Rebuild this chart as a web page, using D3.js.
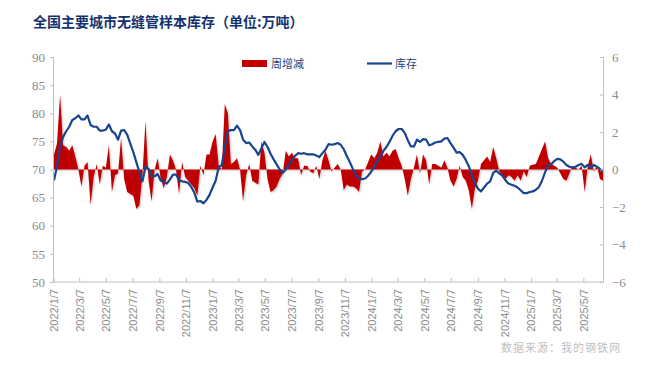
<!DOCTYPE html>
<html>
<head>
<meta charset="utf-8">
<script src="https://cdn.jsdelivr.net/npm/d3@7"></script>
<style>
  body { margin: 0; background: #fff; }
  svg { display: block; }
</style>
</head>
<body>
<svg id="chart" width="651" height="377"></svg>
<script>
// weekly data, first week 2022/1/7
var startDate = "2022-01-07";

// 库存 (万吨, left axis)
var inventory = [
  68.1, 70.6, 74.1, 75.8, 76.8, 77.6, 78.8, 79.1, 79.6, 78.9,
  78.9, 79.6, 77.9, 77.6, 77.6, 76.9, 76.9, 77.1, 78.0, 76.8,
  76.4, 75.3, 76.9, 77.0, 76.2, 74.6, 73.1, 71.3, 69.5, 67.9,
  70.5, 70.1, 68.8, 68.8, 69.2, 68.0, 67.8, 67.5, 68.2, 69.1,
  69.1, 68.1, 67.9, 67.8, 67.6, 66.9, 65.9, 64.3, 64.4, 64.0,
  64.6, 65.5, 66.8, 68.0, 70.4, 70.8, 73.8, 76.8, 77.0, 77.0,
  77.8, 77.0, 75.3, 74.7, 74.8, 74.1, 73.5, 72.6, 73.8, 74.9,
  74.0, 72.8, 71.8, 70.9, 70.0, 69.4, 70.0, 70.8, 71.6, 72.4,
  72.9, 72.8, 72.9, 72.7, 72.7, 72.7, 72.5, 72.2, 72.9, 73.5,
  74.5, 74.4, 74.5, 74.7, 74.4, 73.6, 72.4, 71.3, 70.1, 69.0,
  68.4, 68.3, 68.4, 68.9, 69.6, 70.5, 71.4, 72.3, 73.3, 74.0,
  74.9, 76.0, 76.8, 77.2, 77.2, 76.5, 75.2, 74.1, 74.1, 75.3,
  74.9, 75.4, 75.3, 74.3, 74.5, 74.8, 74.9, 75.0, 75.5, 75.6,
  74.7, 73.9, 73.0, 73.1, 72.6, 71.7, 70.6, 69.0, 67.6, 66.6,
  66.1, 66.8, 67.5, 67.9, 69.4, 69.8, 69.3, 68.9, 68.1, 67.5,
  67.3, 67.1, 66.8, 66.3, 65.8, 65.8, 66.0, 66.1, 66.4, 66.9,
  68.0, 69.5, 70.8, 70.9, 71.5, 71.9, 71.8, 71.4, 70.8, 70.5,
  70.3, 70.5, 70.8, 71.0, 70.4, 70.8, 70.4, 70.8, 70.5, 70.1,
  69.6
];

// 周增减 (万吨, right axis)
var weeklyChange = [
  0.8, 1.4, 4.0, 1.3, 1.2, 1.0, 1.3, 0.7, 0.0, -0.9,
  0.2, 0.4, -1.9, -0.4, 0.3, -0.8, 0.2, 0.1, 1.3, -1.2,
  -0.3, -0.2, 1.7, -0.5, -1.2, -1.3, -1.4, -2.1, -1.9, -0.3,
  2.6, -0.6, -1.7, 0.0, 0.6, -0.5, -1.0, -0.4, 0.8, 0.5,
  0.0, -1.3, 0.4, -0.4, -0.6, -0.8, -1.0, -1.4, 0.2, -0.3,
  0.8, 0.8, 1.5, 1.9, 0.2, 0.0, 3.5, 3.0, 0.3, 0.4,
  0.6, 0.0, -1.7, -0.3, 0.3, -0.6, -0.7, -0.8, 1.5, 0.9,
  -0.5, -1.2, -1.1, -0.9, -0.5, -0.2, 1.0, 0.7, 0.9, 0.6,
  0.6, -0.3, 0.2, 0.2, -0.1, -0.2, 0.2, -0.5, 0.5, 1.0,
  0.5, -0.1, 0.1, 0.3, 0.0, -1.1, -0.8, -0.9, -0.9, -1.0,
  -1.2, -0.1, 0.0, 0.4, 0.8, 0.6, 0.9, 1.5, 0.7, 0.9,
  0.7, 1.0, 1.1, 0.6, 0.2, -0.5, -1.4, -0.5, 0.1, 0.8,
  -0.2, 0.8, 0.5, -0.8, 0.3, 0.3, 0.2, 0.1, 0.5, 0.1,
  -0.6, -0.9, -0.5, 0.2, -0.4, -0.6, -1.1, -2.1, -1.0, -0.6,
  0.3, 0.5, 0.7, 0.4, 1.2, 0.6, -0.1, -0.3, -0.5, -0.3,
  -0.4, -0.6, -0.3, -0.6, -0.1, -0.4, 0.2, 0.25, 0.3, 0.7,
  1.1, 1.5, 0.6, 0.3, 0.2, 0.1, -0.2, -0.5, -0.6, -0.2,
  0.2, 0.1, 0.0, 0.2, -1.2, 0.2, 0.8, -0.1, 0.2, -0.5,
  -0.6
];

var tickLabels = [
  "2022/1/7", "2022/3/7", "2022/5/7", "2022/7/7", "2022/9/7", "2022/11/7",
  "2023/1/7", "2023/3/7", "2023/5/7", "2023/7/7", "2023/9/7", "2023/11/7",
  "2024/1/7", "2024/3/7", "2024/5/7", "2024/7/7", "2024/9/7", "2024/11/7",
  "2025/1/7", "2025/3/7", "2025/5/7"
];
var leftTicks = [50, 55, 60, 65, 70, 75, 80, 85, 90];
var rightTicks = [-6, -4, -2, 0, 2, 4, 6];

var svg = d3.select("#chart");
var plot = { left: 53, right: 603, top: 57, bottom: 282 };

var parseDay = d3.timeParse("%Y-%m-%d");
var parseLabel = d3.timeParse("%Y/%m/%d");
var first = parseDay(startDate);
var rows = inventory.map(function(v, i) {
  return { date: d3.timeDay.offset(first, 7 * i), stock: v, change: weeklyChange[i] };
});

var x = d3.scaleTime()
  .domain(d3.extent(rows, function(d) { return d.date; }))
  .range([plot.left + 1, plot.right]);
var yL = d3.scaleLinear().domain([50, 90]).range([plot.bottom, plot.top]);
var yR = d3.scaleLinear().domain([-6, 6]).range([plot.bottom, plot.top]);

var axisColor = "#bfbfbf";
var labelColor = "#8c8c8c";

// title
svg.append("text")
  .attr("x", 33).attr("y", 27)
  .attr("font-family", "Noto Sans CJK SC")
  .attr("font-weight", "bold")
  .attr("font-size", 14)
  .attr("fill", "#14336e")
  .text("全国主要城市无缝管样本库存（单位:万吨）");

// area shadow
var defs = svg.append("defs");
var f = defs.append("filter").attr("id", "soft").attr("x", "-5%").attr("y", "-5%").attr("width", "110%").attr("height", "110%");
f.append("feDropShadow").attr("dx", 1).attr("dy", 1).attr("stdDeviation", 0.8)
  .attr("flood-color", "#000").attr("flood-opacity", 0.25);

var area = d3.area()
  .x(function(d) { return x(d.date); })
  .y0(yR(0))
  .y1(function(d) { return yR(d.change); });

svg.append("path")
  .datum(rows)
  .attr("d", area)
  .attr("fill", "#c00000")
  .attr("filter", "url(#soft)");

var line = d3.line()
  .x(function(d) { return x(d.date); })
  .y(function(d) { return yL(d.stock); });

svg.append("path")
  .datum(rows)
  .attr("d", line)
  .attr("fill", "none")
  .attr("stroke", "#17458f")
  .attr("stroke-width", 2.2)
  .attr("stroke-linejoin", "round");

// left axis
var gl = svg.append("g").attr("transform", "translate(" + plot.left + ",0)");
gl.call(d3.axisLeft(yL).tickValues(leftTicks).tickSize(3).tickPadding(5));
gl.select(".domain").attr("stroke", axisColor);
gl.selectAll(".tick line").attr("stroke", axisColor);
gl.selectAll(".tick text")
  .attr("font-family", "Liberation Serif")
  .attr("font-size", 13)
  .attr("fill", labelColor);

// right axis
var gr = svg.append("g").attr("transform", "translate(" + plot.right + ",0)");
gr.call(d3.axisRight(yR).tickValues(rightTicks).tickSize(-3).tickPadding(9));
gr.select(".domain").attr("stroke", axisColor);
gr.selectAll(".tick line").attr("stroke", axisColor);
gr.selectAll(".tick text")
  .attr("font-family", "Liberation Serif")
  .attr("font-size", 13)
  .attr("fill", labelColor);

// x axis
var gx = svg.append("g").attr("transform", "translate(0," + plot.bottom + ")");
gx.append("line")
  .attr("x1", plot.left).attr("x2", plot.right)
  .attr("stroke", axisColor);
tickLabels.forEach(function(lab) {
  var tx = x(parseLabel(lab));
  gx.append("line")
    .attr("x1", tx).attr("x2", tx).attr("y1", -4).attr("y2", 0)
    .attr("stroke", axisColor);
  gx.append("text")
    .attr("transform", "translate(" + tx + ",7) rotate(-90)")
    .attr("text-anchor", "end")
    .attr("dy", "0.35em")
    .attr("font-family", "Liberation Sans")
    .attr("font-size", 11)
    .attr("fill", labelColor)
    .text(lab);
});

// legend
var leg = svg.append("g");
leg.append("rect")
  .attr("x", 242).attr("y", 60).attr("width", 25).attr("height", 7)
  .attr("fill", "#c00000");
leg.append("text")
  .attr("x", 271).attr("y", 67.5)
  .attr("font-family", "Noto Sans CJK SC")
  .attr("font-size", 11)
  .attr("fill", "#1f3f7f")
  .text("周增减");
leg.append("line")
  .attr("x1", 367).attr("x2", 392).attr("y1", 63.5).attr("y2", 63.5)
  .attr("stroke", "#17458f").attr("stroke-width", 2.2);
leg.append("text")
  .attr("x", 395).attr("y", 67.5)
  .attr("font-family", "Noto Sans CJK SC")
  .attr("font-size", 11)
  .attr("fill", "#1f3f7f")
  .text("库存");

// source
svg.append("text")
  .attr("x", 621).attr("y", 352)
  .attr("text-anchor", "end")
  .attr("font-family", "Noto Sans CJK SC")
  .attr("font-size", 11)
  .attr("letter-spacing", 1)
  .attr("fill", "#bfbfbf")
  .text("数据来源：我的钢铁网");
</script>
</body>
</html>
